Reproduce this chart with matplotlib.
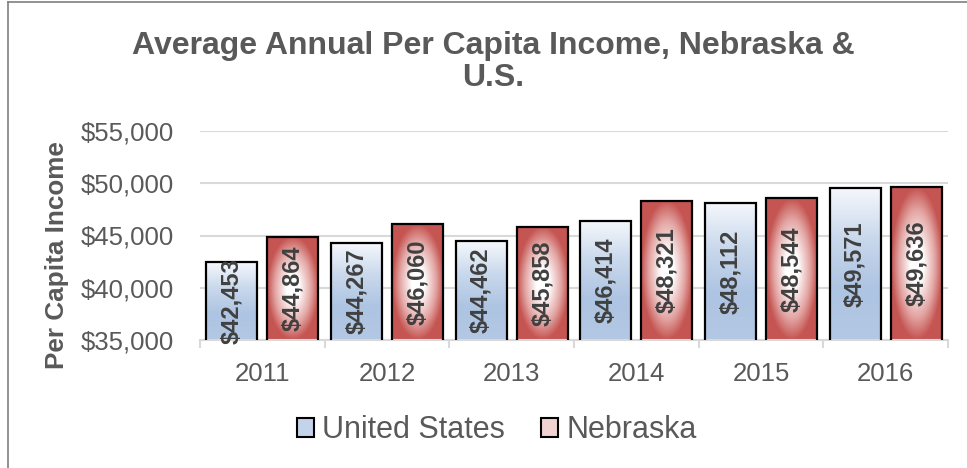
import numpy as np
import matplotlib
matplotlib.use("Agg")
import matplotlib.pyplot as plt
from matplotlib.patches import Patch
from matplotlib.colors import LinearSegmentedColormap
from matplotlib.lines import Line2D

plt.rcParams['font.family'] = ['Liberation Sans', 'DejaVu Sans']

# veriler
years = ["2011", "2012", "2013", "2014", "2015", "2016"]
us_income = [42453, 44267, 44462, 46414, 48112, 49571]
ne_income = [44864, 46060, 45858, 48321, 48544, 49636]
series_names = ["United States", "Nebraska"]
y_ticks = [35000, 40000, 45000, 50000, 55000]

gray = "#595959"
grid_col = "#d9d9d9"

fig = plt.figure(figsize=(9.67, 4.68), dpi=100)
ax = fig.add_axes([200 / 967, 1 - 340 / 468, 748 / 967, 209 / 468])

ymin, ymax = 35000, 55000
x = np.arange(len(years))
width = 0.41
off = 0.245

# gradyanlar
us_cmap = LinearSegmentedColormap.from_list("us", ["#f5f8fc", "#c9d8ec", "#adc4e2", "#b3c8e4"])
ne_cmap = LinearSegmentedColormap.from_list(
    "ne", [(0, "#ffffff"), (0.25, "#ffffff"), (0.7, "#e3a6a4"), (1, "#c55552")])

gy = np.linspace(0, 1, 200)[:, None]
us_img = us_cmap(np.repeat(gy, 2, axis=1))
xx, yy = np.meshgrid(np.linspace(-1, 1, 60), np.linspace(-1, 1, 200))
rr = np.clip(np.sqrt(xx ** 2 + yy ** 2), 0, 1)
ne_img = ne_cmap(rr)

bars_us = ax.bar(x - off, us_income, width, bottom=0, color="none", edgecolor="black", linewidth=1.6, zorder=3)
bars_ne = ax.bar(x + off, ne_income, width, bottom=0, color="none", edgecolor="black", linewidth=1.6, zorder=3)

for b in bars_us:
    x0 = b.get_x()
    im = ax.imshow(us_img, extent=(x0, x0 + width, ymin, b.get_height()), origin="upper", aspect="auto", zorder=2)
    im.set_clip_path(b)
for b in bars_ne:
    x0 = b.get_x()
    im = ax.imshow(ne_img, extent=(x0, x0 + width, ymin, b.get_height()), origin="upper", aspect="auto", zorder=2)
    im.set_clip_path(b)

# etiketler
for bars, vals in [(bars_us, us_income), (bars_ne, ne_income)]:
    for b, v in zip(bars, vals):
        ax.text(b.get_x() + width / 2, (v + ymin) / 2, "${:,}".format(v), rotation=90,
                ha="center", va="center", fontsize=17, fontweight="bold", color="#404040",
                zorder=4, clip_on=False)

ax.set_xlim(-0.5, len(years) - 0.5)
ax.set_ylim(ymin, ymax)
ax.set_yticks(y_ticks)
ax.set_yticklabels(["${:,}".format(t) for t in y_ticks])
ax.set_xticks(x)
ax.set_xticklabels(years)
ax.set_xticks(np.arange(-0.5, len(years), 1), minor=True)
ax.tick_params(axis="x", which="major", length=0, pad=15.5, labelsize=18.5, labelcolor=gray)
ax.tick_params(axis="x", which="minor", length=6, width=1.5, color=grid_col)
ax.tick_params(axis="y", length=0, pad=19, labelsize=18.5, labelcolor=gray)
ax.grid(axis="y", color=grid_col, linewidth=1.5, zorder=0)
ax.set_axisbelow(True)
for s in ["top", "right", "left"]:
    ax.spines[s].set_visible(False)
ax.spines["bottom"].set_color(grid_col)
ax.spines["bottom"].set_linewidth(1.5)

fig.text(493 / 967, 1 - 62 / 468, "Average Annual Per Capita Income, Nebraska &\nU.S.",
         ha="center", va="center", fontsize=23, fontweight="bold", color=gray, linespacing=1.13)
fig.text(57 / 967, 1 - 255 / 468, "Per Capita Income", rotation=90, ha="center", va="center",
         fontsize=18.8, fontweight="bold", color=gray)

handles = [Patch(facecolor="#c3d3ea", edgecolor="black", linewidth=1.5),
           Patch(facecolor="#f0d2d1", edgecolor="black", linewidth=1.5)]
fig.legend(handles, series_names, loc="center", bbox_to_anchor=(497 / 967, 1 - 430 / 468), ncol=2,
           frameon=False, fontsize=22, labelcolor=gray, handlelength=0.56, handleheight=0.56,
           handletextpad=0.26, columnspacing=1.18, borderpad=0)

# dis cerceve
fig.add_artist(Line2D([7.5 / 967, 7.5 / 967], [0, 1 - 1.5 / 468], color="#7f7f7f", linewidth=1.2))
fig.add_artist(Line2D([7.5 / 967, 1], [1 - 1.5 / 468, 1 - 1.5 / 468], color="#7f7f7f", linewidth=1.2))

fig.savefig("out.png", dpi=100)
